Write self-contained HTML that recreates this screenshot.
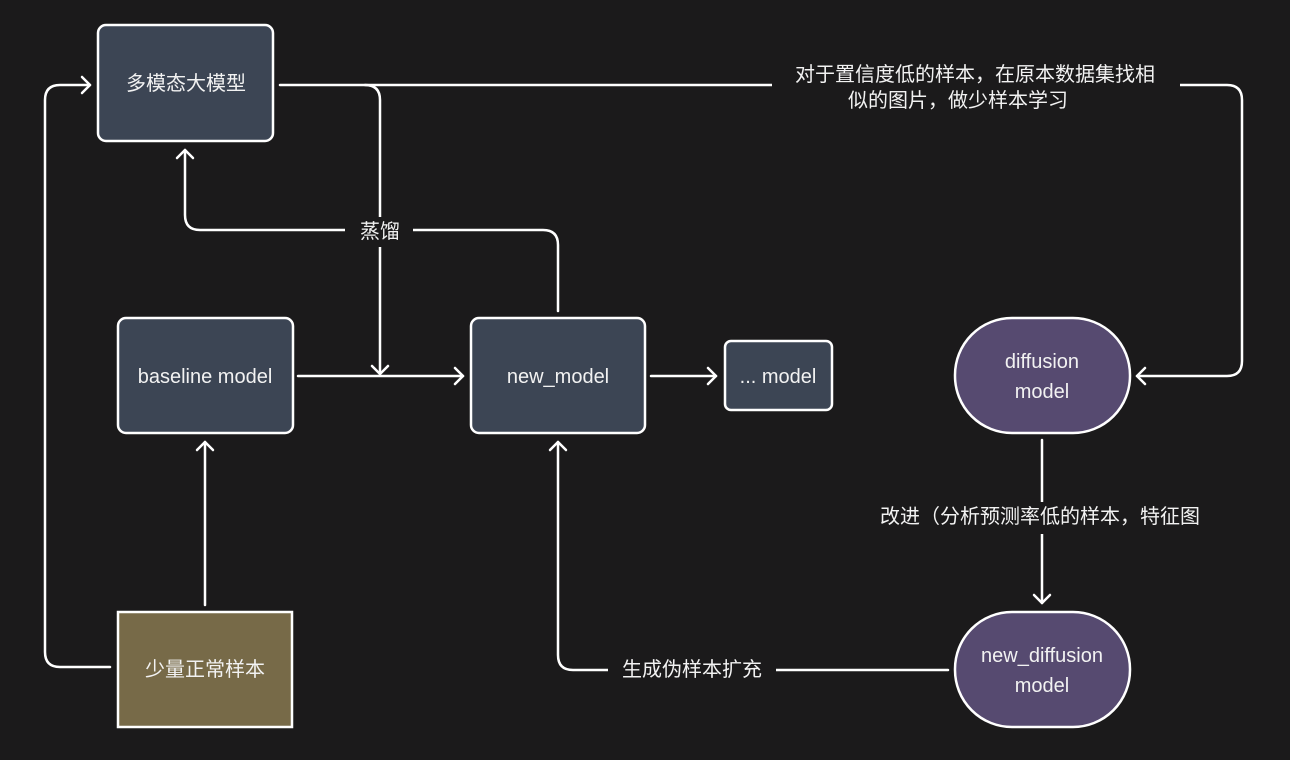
<!DOCTYPE html>
<html><head><meta charset="utf-8"><style>
body{margin:0;background:#1b1a1b;}
svg{display:block}
text{font-family:"Liberation Sans","Noto Sans CJK SC",sans-serif;fill:#f2f2f2;font-size:20px;text-anchor:middle;dominant-baseline:central}
.l{fill:none;stroke:#fff;stroke-width:2.5;stroke-linecap:round;stroke-linejoin:round}
.b{fill:#3c4554;stroke:#fff;stroke-width:2.5}
.bg{fill:#1b1a1b}
</style></head><body>
<svg width="1290" height="760" viewBox="0 0 1290 760">
<rect width="1290" height="760" fill="#1b1a1b"/>
<path class="l" d="M110 667 H60 Q45 667 45 652 V100 Q45 85 60 85 H90"/>
<path class="l" d="M82 77 L90 85 L82 93"/>
<path class="l" d="M205 605 V442"/><path class="l" d="M197 450 L205 442 L213 450"/>
<path class="l" d="M298 376 H463"/><path class="l" d="M455 368 L463 376 L455 384"/>
<path class="l" d="M280 85 H1227 Q1242 85 1242 100 V361 Q1242 376 1227 376 H1137"/>
<path class="l" d="M1145 368 L1137 376 L1145 384"/>
<path class="l" d="M365 85 Q380 85 380 100 V374"/><path class="l" d="M372 366 L380 374 L388 366"/>
<path class="l" d="M558 311 V245 Q558 230 543 230 H200 Q185 230 185 215 V150"/>
<path class="l" d="M177 158 L185 150 L193 158"/>
<path class="l" d="M651 376 H716"/><path class="l" d="M708 368 L716 376 L708 384"/>
<path class="l" d="M1042 440 V603"/><path class="l" d="M1034 595 L1042 603 L1050 595"/>
<path class="l" d="M948 670 H573 Q558 670 558 655 V442"/><path class="l" d="M550 450 L558 442 L566 450"/>
<rect class="bg" x="772" y="60" width="408" height="56"/>
<text x="975" y="75">对于置信度低的样本，在原本数据集找相</text>
<text x="958" y="101">似的图片，做少样本学习</text>
<rect class="bg" x="345" y="217" width="68" height="30"/>
<text x="380" y="232">蒸馏</text>
<rect class="bg" x="865" y="502" width="350" height="32"/>
<text x="1040" y="517">改进（分析预测率低的样本，特征图</text>
<rect class="bg" x="608" y="655" width="168" height="30"/>
<text x="692" y="670">生成伪样本扩充</text>
<rect class="b" x="98" y="25" width="175" height="116" rx="8"/>
<text x="186" y="84">多模态大模型</text>
<rect class="b" x="118" y="318" width="175" height="115" rx="8"/>
<text x="205" y="377">baseline model</text>
<rect class="b" x="471" y="318" width="174" height="115" rx="8"/>
<text x="558" y="377">new_model</text>
<rect class="b" x="725" y="341" width="107" height="69" rx="6"/>
<text x="778" y="377">... model</text>
<rect x="955" y="318" width="175" height="115" rx="57" fill="#564a70" stroke="#fff" stroke-width="2.5"/>
<text x="1042" y="362">diffusion</text><text x="1042" y="392">model</text>
<rect x="955" y="612" width="175" height="115" rx="57" fill="#564a70" stroke="#fff" stroke-width="2.5"/>
<text x="1042" y="656">new_diffusion</text><text x="1042" y="686">model</text>
<rect x="118" y="612" width="174" height="115" fill="#776a48" stroke="#fff" stroke-width="2.5"/>
<text x="205" y="670">少量正常样本</text>
</svg>
</body></html>
